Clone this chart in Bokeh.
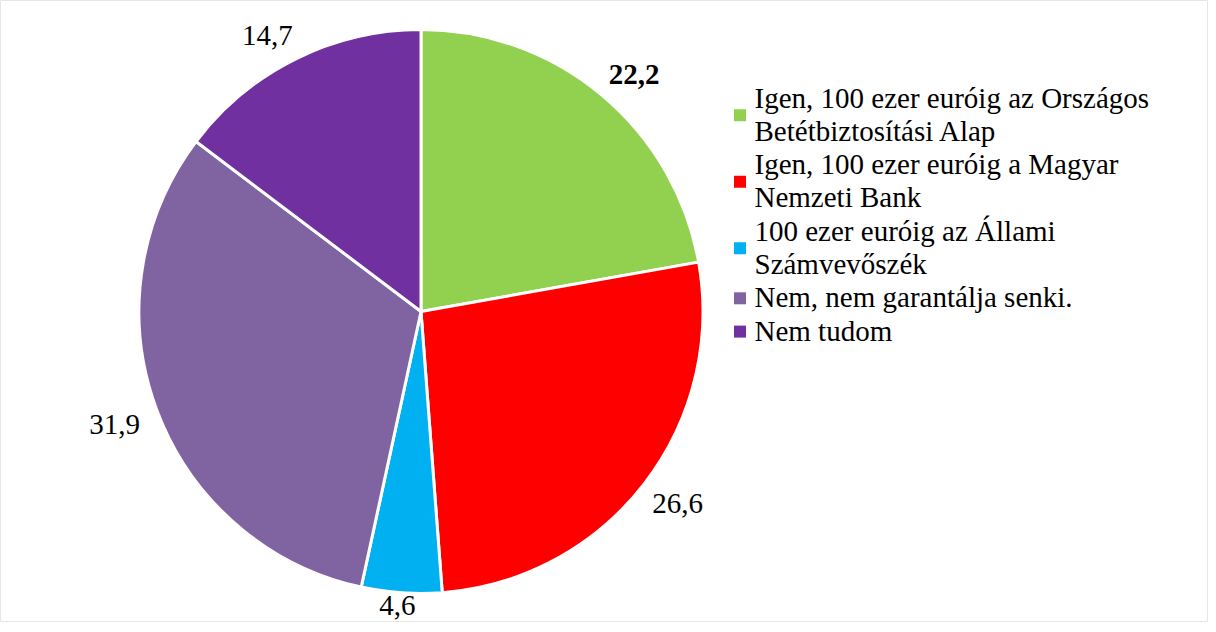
import math
from bokeh.plotting import figure
from bokeh.models import Range1d, ColumnDataSource
from bokeh.core.properties import value
from bokeh.embed import file_html
from bokeh.resources import INLINE

# ---- data ----
categories = [
    "Igen, 100 ezer euróig az Országos Betétbiztosítási Alap",
    "Igen, 100 ezer euróig a Magyar Nemzeti Bank",
    "100 ezer euróig az Állami Számvevőszék",
    "Nem, nem garantálja senki.",
    "Nem tudom",
]
legend_lines = [
    ["Igen, 100 ezer euróig az Országos", "Betétbiztosítási Alap"],
    ["Igen, 100 ezer euróig a Magyar", "Nemzeti Bank"],
    ["100 ezer euróig az Állami", "Számvevőszék"],
    ["Nem, nem garantálja senki."],
    ["Nem tudom"],
]
values = [22.2, 26.6, 4.6, 31.9, 14.7]
value_labels = ["22,2", "26,6", "4,6", "31,9", "14,7"]
label_styles = ["bold", "normal", "normal", "normal", "normal"]
colors = ["#92D050", "#FF0000", "#00B0F0", "#8064A2", "#7030A0"]

# ---- layout constants ----
W, H = 1208, 622
CX, CY, R = 420.5, 311.0, 282
FONT = "Liberation Serif"
FS = "29px"

p = figure(width=W, height=H, x_range=Range1d(0, W), y_range=Range1d(0, H),
           x_axis_type=None, y_axis_type=None, toolbar_location=None,
           output_backend="svg", min_border=0)
p.grid.visible = False
p.outline_line_color = "#e6e6e6"
p.outline_line_width = 1
p.background_fill_color = "white"
p.border_fill_color = "white"

total = sum(values)
starts, ends, mids = [], [], []
cum = 0.0
for v in values:
    a0 = math.pi / 2 - 2 * math.pi * cum / total
    cum += v
    a1 = math.pi / 2 - 2 * math.pi * cum / total
    starts.append(a0)
    ends.append(a1)
    mids.append((a0 + a1) / 2)

src = ColumnDataSource(dict(start=starts, end=ends, color=colors, cat=categories))
p.wedge(x=CX, y=CY, radius=R, radius_units="screen", start_angle="start", end_angle="end",
        direction="clock", fill_color="color", line_color="white", line_width=3, source=src)

# value labels outside the slices ("best fit" style: box corner toward the slice)
gap, hw, hh = 11, 25, 12
lx, ly = [], []
for m in mids:
    c, s = math.cos(m), math.sin(m)
    g = gap + 8 * max(0.0, -c) * abs(c)   # a bit more room on the left side
    px = CX + (R + g) * c + hw * max(-1.0, min(1.0, 2 * c))
    py = CY + (R + g) * s + hh * max(-1.0, min(1.0, 2 * s))
    lx.append(px)
    ly.append(max(py, 17))
p.text(x=lx, y=ly, text=value_labels, text_font=value(FONT), text_font_size=value(FS),
       text_font_style=label_styles, text_align="center", text_baseline="middle",
       text_color="black")

# legend
first_center = 630 - 105   # centre of first legend line (data y)
step = 33.3
sq_x = 747.5 - 8
txt_x = 762 - 8
tx, ty, tt = [], [], []
sx, sy = [], []
k = 0
for lines in legend_lines:
    centers = []
    for line in lines:
        yc = first_center - step * k
        tx.append(txt_x)
        ty.append(yc)
        tt.append(line)
        centers.append(yc)
        k += 1
    sx.append(sq_x)
    sy.append(sum(centers) / len(centers) - 1)
p.rect(x=sx, y=sy, width=12, height=12, width_units="screen", height_units="screen",
       fill_color=colors, line_color=None)
p.text(x=tx, y=ty, text=tt, text_font=value(FONT), text_font_size=value(FS),
       text_align="left", text_baseline="middle", text_color="black")

open("out.html", "w").write(file_html(p, INLINE))
